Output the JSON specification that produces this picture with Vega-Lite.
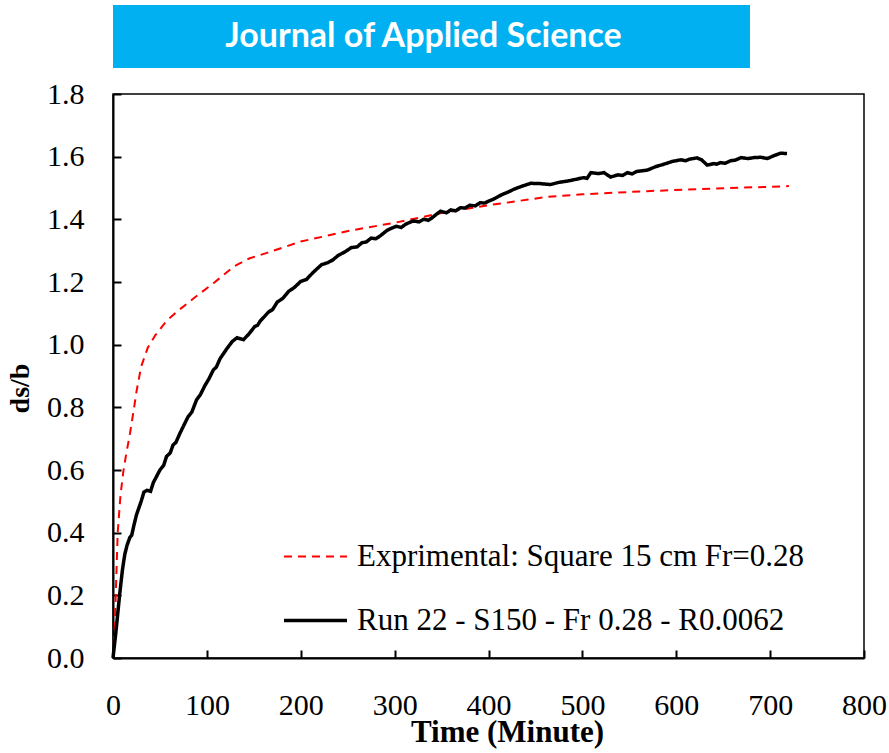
{
  "$schema": "https://vega.github.io/schema/vega-lite/v6.json",
  "background": "white",
  "padding": {"left": 5, "top": 5, "right": 0, "bottom": 5},
  "spacing": 26,
  "bounds": "flush",
  "config": {
    "font": "Times New Roman, Liberation Serif, DejaVu Serif, serif",
    "view": {"stroke": null}
  },
  "vconcat": [
    {
      "width": 637,
      "height": 63,
      "view": {"fill": "#00b0f0", "stroke": null},
      "data": {"values": [{"label": "Journal of Applied Science"}]},
      "mark": {"type": "text", "font": "Lato", "fontWeight": "bold", "fontSize": 34, "color": "white", "align": "center", "baseline": "middle", "dx": -8},
      "encoding": {"text": {"field": "label"}}
    },
    {
      "width": 751,
      "height": 564,
      "view": {"stroke": "black", "strokeWidth": 1.5},
      "data": {"values": [
        {"series": "Exprimental: Square 15 cm Fr=0.28", "t": 0, "v": 0},
        {"series": "Exprimental: Square 15 cm Fr=0.28", "t": 2, "v": 0.11},
        {"series": "Exprimental: Square 15 cm Fr=0.28", "t": 5, "v": 0.4},
        {"series": "Exprimental: Square 15 cm Fr=0.28", "t": 8, "v": 0.52},
        {"series": "Exprimental: Square 15 cm Fr=0.28", "t": 11, "v": 0.595},
        {"series": "Exprimental: Square 15 cm Fr=0.28", "t": 14, "v": 0.65},
        {"series": "Exprimental: Square 15 cm Fr=0.28", "t": 18, "v": 0.715},
        {"series": "Exprimental: Square 15 cm Fr=0.28", "t": 22, "v": 0.79},
        {"series": "Exprimental: Square 15 cm Fr=0.28", "t": 25, "v": 0.85},
        {"series": "Exprimental: Square 15 cm Fr=0.28", "t": 30, "v": 0.93},
        {"series": "Exprimental: Square 15 cm Fr=0.28", "t": 37, "v": 0.99},
        {"series": "Exprimental: Square 15 cm Fr=0.28", "t": 45, "v": 1.03},
        {"series": "Exprimental: Square 15 cm Fr=0.28", "t": 57, "v": 1.076},
        {"series": "Exprimental: Square 15 cm Fr=0.28", "t": 70, "v": 1.11},
        {"series": "Exprimental: Square 15 cm Fr=0.28", "t": 86, "v": 1.148},
        {"series": "Exprimental: Square 15 cm Fr=0.28", "t": 107, "v": 1.196},
        {"series": "Exprimental: Square 15 cm Fr=0.28", "t": 129, "v": 1.25},
        {"series": "Exprimental: Square 15 cm Fr=0.28", "t": 145, "v": 1.275},
        {"series": "Exprimental: Square 15 cm Fr=0.28", "t": 164, "v": 1.293},
        {"series": "Exprimental: Square 15 cm Fr=0.28", "t": 200, "v": 1.329},
        {"series": "Exprimental: Square 15 cm Fr=0.28", "t": 254, "v": 1.365},
        {"series": "Exprimental: Square 15 cm Fr=0.28", "t": 300, "v": 1.389},
        {"series": "Exprimental: Square 15 cm Fr=0.28", "t": 350, "v": 1.42},
        {"series": "Exprimental: Square 15 cm Fr=0.28", "t": 400, "v": 1.445},
        {"series": "Exprimental: Square 15 cm Fr=0.28", "t": 463, "v": 1.472},
        {"series": "Exprimental: Square 15 cm Fr=0.28", "t": 500, "v": 1.48},
        {"series": "Exprimental: Square 15 cm Fr=0.28", "t": 569, "v": 1.49},
        {"series": "Exprimental: Square 15 cm Fr=0.28", "t": 640, "v": 1.498},
        {"series": "Exprimental: Square 15 cm Fr=0.28", "t": 720, "v": 1.506},
        {"series": "Run 22 - S150 - Fr 0.28 - R0.0062", "t": 0, "v": 0},
        {"series": "Run 22 - S150 - Fr 0.28 - R0.0062", "t": 3, "v": 0.08},
        {"series": "Run 22 - S150 - Fr 0.28 - R0.0062", "t": 7, "v": 0.2},
        {"series": "Run 22 - S150 - Fr 0.28 - R0.0062", "t": 10, "v": 0.28},
        {"series": "Run 22 - S150 - Fr 0.28 - R0.0062", "t": 12.5, "v": 0.33},
        {"series": "Run 22 - S150 - Fr 0.28 - R0.0062", "t": 15, "v": 0.36},
        {"series": "Run 22 - S150 - Fr 0.28 - R0.0062", "t": 18, "v": 0.385},
        {"series": "Run 22 - S150 - Fr 0.28 - R0.0062", "t": 20, "v": 0.392},
        {"series": "Run 22 - S150 - Fr 0.28 - R0.0062", "t": 22, "v": 0.42},
        {"series": "Run 22 - S150 - Fr 0.28 - R0.0062", "t": 25, "v": 0.457},
        {"series": "Run 22 - S150 - Fr 0.28 - R0.0062", "t": 30, "v": 0.5},
        {"series": "Run 22 - S150 - Fr 0.28 - R0.0062", "t": 33, "v": 0.53},
        {"series": "Run 22 - S150 - Fr 0.28 - R0.0062", "t": 36, "v": 0.535},
        {"series": "Run 22 - S150 - Fr 0.28 - R0.0062", "t": 40, "v": 0.532},
        {"series": "Run 22 - S150 - Fr 0.28 - R0.0062", "t": 43, "v": 0.56},
        {"series": "Run 22 - S150 - Fr 0.28 - R0.0062", "t": 50, "v": 0.6},
        {"series": "Run 22 - S150 - Fr 0.28 - R0.0062", "t": 54, "v": 0.615},
        {"series": "Run 22 - S150 - Fr 0.28 - R0.0062", "t": 57, "v": 0.643},
        {"series": "Run 22 - S150 - Fr 0.28 - R0.0062", "t": 61, "v": 0.655},
        {"series": "Run 22 - S150 - Fr 0.28 - R0.0062", "t": 64, "v": 0.68},
        {"series": "Run 22 - S150 - Fr 0.28 - R0.0062", "t": 67, "v": 0.688},
        {"series": "Run 22 - S150 - Fr 0.28 - R0.0062", "t": 71, "v": 0.715},
        {"series": "Run 22 - S150 - Fr 0.28 - R0.0062", "t": 75, "v": 0.74},
        {"series": "Run 22 - S150 - Fr 0.28 - R0.0062", "t": 80, "v": 0.77},
        {"series": "Run 22 - S150 - Fr 0.28 - R0.0062", "t": 84, "v": 0.785},
        {"series": "Run 22 - S150 - Fr 0.28 - R0.0062", "t": 89, "v": 0.824},
        {"series": "Run 22 - S150 - Fr 0.28 - R0.0062", "t": 93, "v": 0.84},
        {"series": "Run 22 - S150 - Fr 0.28 - R0.0062", "t": 98, "v": 0.87},
        {"series": "Run 22 - S150 - Fr 0.28 - R0.0062", "t": 102, "v": 0.89},
        {"series": "Run 22 - S150 - Fr 0.28 - R0.0062", "t": 107, "v": 0.92},
        {"series": "Run 22 - S150 - Fr 0.28 - R0.0062", "t": 110, "v": 0.928},
        {"series": "Run 22 - S150 - Fr 0.28 - R0.0062", "t": 114, "v": 0.955},
        {"series": "Run 22 - S150 - Fr 0.28 - R0.0062", "t": 121, "v": 0.986},
        {"series": "Run 22 - S150 - Fr 0.28 - R0.0062", "t": 127, "v": 1.01},
        {"series": "Run 22 - S150 - Fr 0.28 - R0.0062", "t": 132, "v": 1.022},
        {"series": "Run 22 - S150 - Fr 0.28 - R0.0062", "t": 139, "v": 1.016},
        {"series": "Run 22 - S150 - Fr 0.28 - R0.0062", "t": 145, "v": 1.035},
        {"series": "Run 22 - S150 - Fr 0.28 - R0.0062", "t": 151, "v": 1.058},
        {"series": "Run 22 - S150 - Fr 0.28 - R0.0062", "t": 154, "v": 1.062},
        {"series": "Run 22 - S150 - Fr 0.28 - R0.0062", "t": 157, "v": 1.076},
        {"series": "Run 22 - S150 - Fr 0.28 - R0.0062", "t": 166, "v": 1.105},
        {"series": "Run 22 - S150 - Fr 0.28 - R0.0062", "t": 170, "v": 1.112},
        {"series": "Run 22 - S150 - Fr 0.28 - R0.0062", "t": 175, "v": 1.136},
        {"series": "Run 22 - S150 - Fr 0.28 - R0.0062", "t": 181, "v": 1.148},
        {"series": "Run 22 - S150 - Fr 0.28 - R0.0062", "t": 187, "v": 1.17},
        {"series": "Run 22 - S150 - Fr 0.28 - R0.0062", "t": 193, "v": 1.182},
        {"series": "Run 22 - S150 - Fr 0.28 - R0.0062", "t": 200, "v": 1.202},
        {"series": "Run 22 - S150 - Fr 0.28 - R0.0062", "t": 206, "v": 1.208},
        {"series": "Run 22 - S150 - Fr 0.28 - R0.0062", "t": 213, "v": 1.23},
        {"series": "Run 22 - S150 - Fr 0.28 - R0.0062", "t": 222, "v": 1.255},
        {"series": "Run 22 - S150 - Fr 0.28 - R0.0062", "t": 229, "v": 1.262},
        {"series": "Run 22 - S150 - Fr 0.28 - R0.0062", "t": 234, "v": 1.27},
        {"series": "Run 22 - S150 - Fr 0.28 - R0.0062", "t": 240, "v": 1.285},
        {"series": "Run 22 - S150 - Fr 0.28 - R0.0062", "t": 247, "v": 1.296},
        {"series": "Run 22 - S150 - Fr 0.28 - R0.0062", "t": 254, "v": 1.31},
        {"series": "Run 22 - S150 - Fr 0.28 - R0.0062", "t": 260, "v": 1.312},
        {"series": "Run 22 - S150 - Fr 0.28 - R0.0062", "t": 265, "v": 1.325},
        {"series": "Run 22 - S150 - Fr 0.28 - R0.0062", "t": 270, "v": 1.328},
        {"series": "Run 22 - S150 - Fr 0.28 - R0.0062", "t": 275, "v": 1.34},
        {"series": "Run 22 - S150 - Fr 0.28 - R0.0062", "t": 280, "v": 1.338},
        {"series": "Run 22 - S150 - Fr 0.28 - R0.0062", "t": 285, "v": 1.348},
        {"series": "Run 22 - S150 - Fr 0.28 - R0.0062", "t": 292, "v": 1.365},
        {"series": "Run 22 - S150 - Fr 0.28 - R0.0062", "t": 297, "v": 1.372},
        {"series": "Run 22 - S150 - Fr 0.28 - R0.0062", "t": 302, "v": 1.378},
        {"series": "Run 22 - S150 - Fr 0.28 - R0.0062", "t": 307, "v": 1.374},
        {"series": "Run 22 - S150 - Fr 0.28 - R0.0062", "t": 312, "v": 1.385},
        {"series": "Run 22 - S150 - Fr 0.28 - R0.0062", "t": 320, "v": 1.395},
        {"series": "Run 22 - S150 - Fr 0.28 - R0.0062", "t": 326, "v": 1.392},
        {"series": "Run 22 - S150 - Fr 0.28 - R0.0062", "t": 331, "v": 1.4},
        {"series": "Run 22 - S150 - Fr 0.28 - R0.0062", "t": 336, "v": 1.397},
        {"series": "Run 22 - S150 - Fr 0.28 - R0.0062", "t": 340, "v": 1.405},
        {"series": "Run 22 - S150 - Fr 0.28 - R0.0062", "t": 344, "v": 1.415},
        {"series": "Run 22 - S150 - Fr 0.28 - R0.0062", "t": 349, "v": 1.426},
        {"series": "Run 22 - S150 - Fr 0.28 - R0.0062", "t": 355, "v": 1.421},
        {"series": "Run 22 - S150 - Fr 0.28 - R0.0062", "t": 360, "v": 1.43},
        {"series": "Run 22 - S150 - Fr 0.28 - R0.0062", "t": 365, "v": 1.427},
        {"series": "Run 22 - S150 - Fr 0.28 - R0.0062", "t": 370, "v": 1.437},
        {"series": "Run 22 - S150 - Fr 0.28 - R0.0062", "t": 375, "v": 1.436},
        {"series": "Run 22 - S150 - Fr 0.28 - R0.0062", "t": 380, "v": 1.445},
        {"series": "Run 22 - S150 - Fr 0.28 - R0.0062", "t": 386, "v": 1.443},
        {"series": "Run 22 - S150 - Fr 0.28 - R0.0062", "t": 391, "v": 1.453},
        {"series": "Run 22 - S150 - Fr 0.28 - R0.0062", "t": 396, "v": 1.452},
        {"series": "Run 22 - S150 - Fr 0.28 - R0.0062", "t": 400, "v": 1.458},
        {"series": "Run 22 - S150 - Fr 0.28 - R0.0062", "t": 405, "v": 1.464},
        {"series": "Run 22 - S150 - Fr 0.28 - R0.0062", "t": 415, "v": 1.48},
        {"series": "Run 22 - S150 - Fr 0.28 - R0.0062", "t": 421, "v": 1.487},
        {"series": "Run 22 - S150 - Fr 0.28 - R0.0062", "t": 427, "v": 1.496},
        {"series": "Run 22 - S150 - Fr 0.28 - R0.0062", "t": 435, "v": 1.505},
        {"series": "Run 22 - S150 - Fr 0.28 - R0.0062", "t": 445, "v": 1.515},
        {"series": "Run 22 - S150 - Fr 0.28 - R0.0062", "t": 455, "v": 1.514},
        {"series": "Run 22 - S150 - Fr 0.28 - R0.0062", "t": 466, "v": 1.511},
        {"series": "Run 22 - S150 - Fr 0.28 - R0.0062", "t": 475, "v": 1.518},
        {"series": "Run 22 - S150 - Fr 0.28 - R0.0062", "t": 484, "v": 1.522},
        {"series": "Run 22 - S150 - Fr 0.28 - R0.0062", "t": 492, "v": 1.527},
        {"series": "Run 22 - S150 - Fr 0.28 - R0.0062", "t": 501, "v": 1.533},
        {"series": "Run 22 - S150 - Fr 0.28 - R0.0062", "t": 505, "v": 1.531},
        {"series": "Run 22 - S150 - Fr 0.28 - R0.0062", "t": 509, "v": 1.549},
        {"series": "Run 22 - S150 - Fr 0.28 - R0.0062", "t": 517, "v": 1.546},
        {"series": "Run 22 - S150 - Fr 0.28 - R0.0062", "t": 523, "v": 1.549},
        {"series": "Run 22 - S150 - Fr 0.28 - R0.0062", "t": 530, "v": 1.535},
        {"series": "Run 22 - S150 - Fr 0.28 - R0.0062", "t": 538, "v": 1.542},
        {"series": "Run 22 - S150 - Fr 0.28 - R0.0062", "t": 543, "v": 1.54},
        {"series": "Run 22 - S150 - Fr 0.28 - R0.0062", "t": 548, "v": 1.549},
        {"series": "Run 22 - S150 - Fr 0.28 - R0.0062", "t": 553, "v": 1.545},
        {"series": "Run 22 - S150 - Fr 0.28 - R0.0062", "t": 558, "v": 1.553},
        {"series": "Run 22 - S150 - Fr 0.28 - R0.0062", "t": 569, "v": 1.557},
        {"series": "Run 22 - S150 - Fr 0.28 - R0.0062", "t": 578, "v": 1.568},
        {"series": "Run 22 - S150 - Fr 0.28 - R0.0062", "t": 587, "v": 1.576},
        {"series": "Run 22 - S150 - Fr 0.28 - R0.0062", "t": 596, "v": 1.585},
        {"series": "Run 22 - S150 - Fr 0.28 - R0.0062", "t": 605, "v": 1.59},
        {"series": "Run 22 - S150 - Fr 0.28 - R0.0062", "t": 610, "v": 1.587},
        {"series": "Run 22 - S150 - Fr 0.28 - R0.0062", "t": 614, "v": 1.592},
        {"series": "Run 22 - S150 - Fr 0.28 - R0.0062", "t": 622, "v": 1.596},
        {"series": "Run 22 - S150 - Fr 0.28 - R0.0062", "t": 627, "v": 1.59},
        {"series": "Run 22 - S150 - Fr 0.28 - R0.0062", "t": 633, "v": 1.573},
        {"series": "Run 22 - S150 - Fr 0.28 - R0.0062", "t": 640, "v": 1.578},
        {"series": "Run 22 - S150 - Fr 0.28 - R0.0062", "t": 643, "v": 1.576},
        {"series": "Run 22 - S150 - Fr 0.28 - R0.0062", "t": 647, "v": 1.581},
        {"series": "Run 22 - S150 - Fr 0.28 - R0.0062", "t": 652, "v": 1.579},
        {"series": "Run 22 - S150 - Fr 0.28 - R0.0062", "t": 658, "v": 1.587},
        {"series": "Run 22 - S150 - Fr 0.28 - R0.0062", "t": 663, "v": 1.589},
        {"series": "Run 22 - S150 - Fr 0.28 - R0.0062", "t": 669, "v": 1.597},
        {"series": "Run 22 - S150 - Fr 0.28 - R0.0062", "t": 676, "v": 1.594},
        {"series": "Run 22 - S150 - Fr 0.28 - R0.0062", "t": 683, "v": 1.597},
        {"series": "Run 22 - S150 - Fr 0.28 - R0.0062", "t": 690, "v": 1.598},
        {"series": "Run 22 - S150 - Fr 0.28 - R0.0062", "t": 697, "v": 1.594},
        {"series": "Run 22 - S150 - Fr 0.28 - R0.0062", "t": 704, "v": 1.603},
        {"series": "Run 22 - S150 - Fr 0.28 - R0.0062", "t": 711, "v": 1.611},
        {"series": "Run 22 - S150 - Fr 0.28 - R0.0062", "t": 718, "v": 1.61}
      ]},
      "mark": {"type": "line", "interpolate": "linear"},
      "encoding": {
        "x": {
          "field": "t", "type": "quantitative",
          "scale": {"domain": [0, 800], "nice": false, "zero": true},
          "axis": {
            "title": "Time (Minute)",
            "titleX": 394,
            "values": [0, 100, 200, 300, 400, 500, 600, 700, 800],
            "grid": false,
            "domainColor": "black", "domainWidth": 2,
            "tickColor": "black", "tickWidth": 2, "tickSize": -8,
            "labelFont": "Times New Roman, Liberation Serif, DejaVu Serif, serif", "labelFontSize": 30, "labelColor": "black",
            "labelPadding": 40, "labelFlush": false,
            "titleFont": "Times New Roman, Liberation Serif, DejaVu Serif, serif", "titleFontSize": 31, "titleFontWeight": "bold", "titleColor": "black",
            "titlePadding": -3
          }
        },
        "y": {
          "field": "v", "type": "quantitative",
          "scale": {"domain": [0, 1.8], "nice": false},
          "axis": {
            "title": "ds/b",
            "titleY": 294,
            "values": [0, 0.2, 0.4, 0.6, 0.8, 1.0, 1.2, 1.4, 1.6, 1.8],
            "format": ".1f",
            "grid": false,
            "domainColor": "black", "domainWidth": 2,
            "tickColor": "black", "tickWidth": 2, "tickSize": -8,
            "labelFont": "Times New Roman, Liberation Serif, DejaVu Serif, serif", "labelFontSize": 30, "labelColor": "black",
            "labelPadding": 37, "labelFlush": false,
            "titleFont": "Times New Roman, Liberation Serif, DejaVu Serif, serif", "titleFontSize": 28, "titleFontWeight": "bold", "titleColor": "black",
            "titlePadding": 12
          }
        },
        "color": {
          "field": "series", "type": "nominal",
          "scale": {"domain": ["Exprimental: Square 15 cm Fr=0.28", "Run 22 - S150 - Fr 0.28 - R0.0062"], "range": ["#ff0000", "#000000"]},
          "legend": {
            "title": null,
            "orient": "none",
            "legendX": 169,
            "legendY": 519,
            "padding": 0,
            "symbolType": "stroke",
            "symbolSize": 3969,
            "symbolStrokeWidth": 3,
            "rowPadding": 15,
            "labelOffset": 8,
            "labelFont": "Times New Roman, Liberation Serif, DejaVu Serif, serif",
            "labelFontSize": 31,
            "labelColor": "black",
            "labelLimit": 1000
          }
        },
        "strokeDash": {
          "field": "series", "type": "nominal",
          "scale": {"domain": ["Exprimental: Square 15 cm Fr=0.28", "Run 22 - S150 - Fr 0.28 - R0.0062"], "range": [[8, 6], [1, 0]]},
          "legend": {
            "title": null,
            "orient": "none",
            "legendX": 169,
            "legendY": 519,
            "padding": 0,
            "symbolType": "stroke",
            "symbolSize": 3969,
            "symbolStrokeWidth": 3,
            "rowPadding": 15,
            "labelOffset": 8,
            "labelFont": "Times New Roman, Liberation Serif, DejaVu Serif, serif",
            "labelFontSize": 31,
            "labelColor": "black",
            "labelLimit": 1000
          }
        },
        "strokeWidth": {
          "field": "series", "type": "nominal",
          "scale": {"domain": ["Exprimental: Square 15 cm Fr=0.28", "Run 22 - S150 - Fr 0.28 - R0.0062"], "range": [2, 3.5]},
          "legend": null
        }
      }
    }
  ]
}
